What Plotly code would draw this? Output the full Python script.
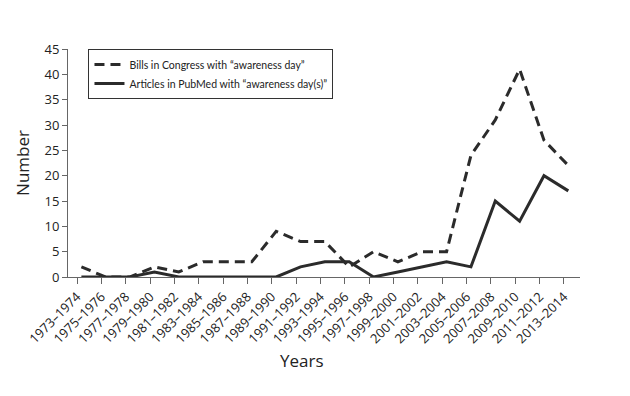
import plotly.graph_objects as go

periods = ["1973–1974", "1975–1976", "1977–1978", "1979–1980", "1981–1982", "1983–1984",
           "1985–1986", "1987–1988", "1989–1990", "1991–1992", "1993–1994", "1995–1996",
           "1997–1998", "1999–2000", "2001–2002", "2003–2004", "2005–2006", "2007–2008",
           "2009–2010", "2011–2012", "2013–2014"]
bills = [2, 0, 0, 2, 1, 3, 3, 3, 9, 7, 7, 2, 5, 3, 5, 5, 24, 31, 41, 27, 22]
articles = [0, 0, 0, 1, 0, 0, 0, 0, 0, 2, 3, 3, 0, 1, 2, 3, 2, 15, 11, 20, 17]
y_ticks = [0, 5, 10, 15, 20, 25, 30, 35, 40, 45]

idx = list(range(len(periods)))
xpos = [i + 0.18 for i in idx]

col = "#2b2b2b"
font = "Open Sans, Noto Sans, sans-serif"

fig = go.Figure()
fig.add_trace(go.Scatter(x=xpos, y=bills, mode="lines", name="Bills in Congress with \u201cawareness day\u201d",
                         line=dict(color=col, width=3, dash="10px,6px")))
fig.add_trace(go.Scatter(x=xpos, y=articles, mode="lines", name="Articles in PubMed with \u201cawareness day(s)\u201d",
                         line=dict(color=col, width=3)))

fig.update_layout(
    width=622, height=388,
    margin=dict(l=60, r=50, t=41, b=119, autoexpand=False),
    paper_bgcolor="white", plot_bgcolor="white",
    font=dict(family=font, color="#222", size=12),
    showlegend=True,
    legend=dict(x=0.04, y=1.0, xanchor="left", yanchor="top",
                bordercolor="#333", borderwidth=1, bgcolor="white", itemwidth=30,
                font=dict(family="Lato, Open Sans, sans-serif", size=10.5, color="#222"),
                tracegroupgap=0),
    xaxis=dict(range=[-0.37, 20.66], tickmode="array", tickvals=idx, ticktext=periods,
               tickangle=-45, showgrid=False, zeroline=False, showline=True, automargin=False,
               linecolor="#666", linewidth=1, ticks="outside", ticklen=6, tickcolor="#666",
               tickfont=dict(size=13, color="#222")),
    yaxis=dict(range=[0, 45], tickmode="array", tickvals=y_ticks, showgrid=False, zeroline=False,
               showline=True, linecolor="#666", linewidth=1, ticks="outside", ticklen=5,
               automargin=False, tickcolor="#666", tickfont=dict(size=13, color="#222")),
    annotations=[
        dict(text="Years", xref="paper", yref="paper", x=0.457, y=0, yshift=-70,
             xanchor="center", yanchor="top", showarrow=False,
             font=dict(size=17, color="#222")),
        dict(text="Number", xref="paper", yref="paper", x=-0.09, y=0.5,
             xanchor="center", yanchor="middle", textangle=-90, showarrow=False,
             font=dict(size=17, color="#222")),
    ],
)

fig.write_html("out.html")
